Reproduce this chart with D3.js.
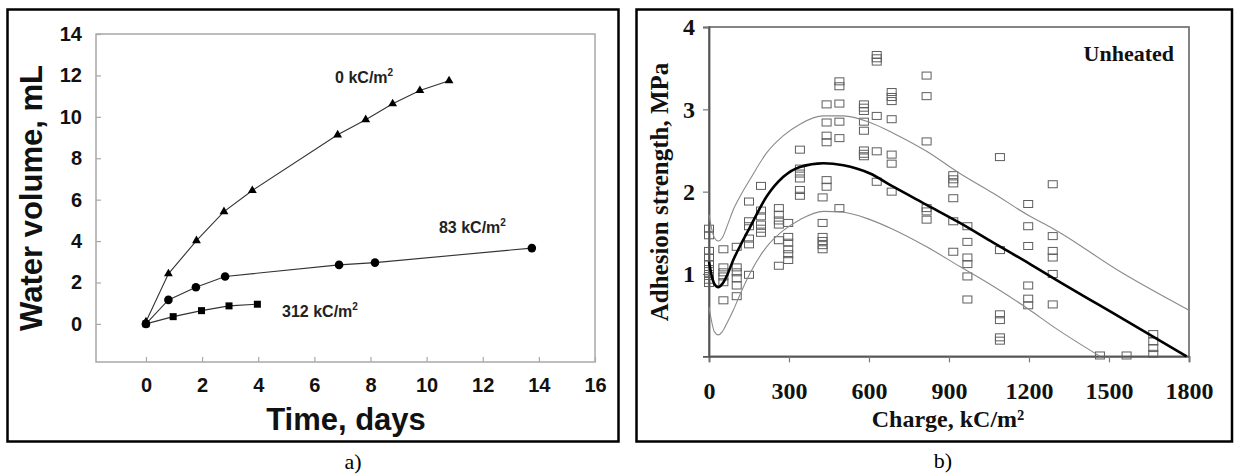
<!DOCTYPE html>
<html><head><meta charset="utf-8">
<script src="https://cdn.jsdelivr.net/npm/d3@7"></script>
<style>body{margin:0;background:#fff}svg{display:block}</style>
</head><body>
<svg id="c" width="1234" height="474"></svg>
<script>
// ---------- Panel a) data ----------
const timeTicks = [0,2,4,6,8,10,12,14,16];
const volTicks = [0,2,4,6,8,10,12,14];
const time0 = [0,0.8,1.8,2.78,3.79,6.83,7.83,8.79,9.76,10.8];
const vol0  = [0.1,2.42,4.02,5.42,6.44,9.13,9.86,10.63,11.27,11.74];
const time83 = [0,0.8,1.78,2.82,6.88,8.16,13.75];
const vol83  = [0,1.16,1.77,2.29,2.85,2.96,3.66];
const time312 = [0,0.97,1.98,2.96,3.97];
const vol312  = [0,0.35,0.64,0.87,0.95];
const seriesLabels = ["0 kC/m", "83 kC/m", "312 kC/m"];

// ---------- Panel b) data ----------
const chargeTicks = [0,300,600,900,1200,1500,1800];
const strengthTicks = [1,2,3,4];
const chargeLevels = [0,54,104,150,195,262,297,341,426,441,489,581,629,685,816,916,969,1091,1197,1289,1466,1566,1666];
const strengthAt = [
  [1.55,1.47,1.28,1.2,1.12,1.06,1.0,0.93,0.89],
  [1.3,1.08,1.02,0.97,0.9,0.68],
  [1.33,1.08,1.02,0.95,0.86,0.73],
  [1.88,1.64,1.58,1.43,1.36,0.99],
  [2.07,1.77,1.7,1.6,1.55,1.5],
  [1.8,1.72,1.65,1.6,1.41,1.1],
  [1.62,1.45,1.38,1.3,1.24,1.17],
  [2.51,2.28,2.22,2.16,2.02,1.95],
  [1.93,1.62,1.45,1.4,1.35,1.3],
  [3.06,2.84,2.68,2.6,2.14,2.06],
  [3.34,3.28,3.07,2.85,2.65,1.8],
  [3.06,3.02,2.98,2.85,2.74,2.5,2.46,2.43],
  [3.66,3.62,3.58,2.92,2.49,2.12],
  [3.21,3.15,3.1,2.88,2.45,2.34,2.0],
  [3.41,3.16,2.61,1.8,1.76,1.66],
  [2.2,2.15,2.1,1.92,1.64,1.27],
  [1.58,1.39,1.2,1.12,0.97,0.69],
  [2.42,1.29,0.51,0.44,0.23,0.19],
  [1.85,1.58,1.34,0.86,0.7,0.62],
  [2.09,1.46,1.28,1.2,1.0,0.63],
  [0.01],
  [0.01],
  [0.27,0.18,0.1,0.03]
];
const fitCharge = [0,10,20,35,50,70,91,123,154,216,279,341,429,504,604,691,816,941,1066,1204,1291,1541,1791];
const fitMean   = [1.15,0.98,0.88,0.84,0.88,1.0,1.17,1.38,1.57,1.94,2.18,2.30,2.345,2.32,2.22,2.06,1.84,1.62,1.38,1.12,0.95,0.475,0];
const upperCharge = [0,10,20,35,50,70,91,123,154,216,279,341,429,504,604,691,816,941,1066,1204,1291,1541,1800];
const fitUpper    = [1.72,1.55,1.44,1.40,1.44,1.6,1.78,1.98,2.15,2.47,2.68,2.82,2.92,2.92,2.84,2.71,2.49,2.22,1.98,1.70,1.55,1.03,0.56];
const lowerCharge = [0,10,20,35,50,70,91,123,154,216,279,341,429,504,604,691,816,941,1066,1204,1291,1466];
const fitLower    = [0.6,0.42,0.3,0.26,0.3,0.42,0.56,0.8,1.01,1.33,1.53,1.66,1.76,1.75,1.66,1.54,1.33,1.09,0.85,0.56,0.36,0];

const svg = d3.select("#c");
svg.append("rect").attr("width",1234).attr("height",474).attr("fill","#fff");

// ================= Panel a =================
const SANS = "'Liberation Sans', Arial, sans-serif";
const SERIF = "'Liberation Serif', 'Times New Roman', serif";
const ga = svg.append("g");
ga.append("rect").attr("x",7.5).attr("y",9.5).attr("width",611).attr("height",432)
  .attr("fill","none").attr("stroke","#000").attr("stroke-width",2.5);

const xA = d3.scaleLinear().domain([-1.78,16]).range([96,595]);
const yA = d3.scaleLinear().domain([-1.84,14]).range([362,34]);

ga.append("rect").attr("x",96).attr("y",34).attr("width",499).attr("height",328)
  .attr("fill","none").attr("stroke","#a8a8a8").attr("stroke-width",1.5);

const axA = ga.append("g").attr("transform","translate(0,362)")
  .call(d3.axisBottom(xA).tickValues(timeTicks).tickSize(-5).tickPadding(16).tickFormat(d3.format("d")));
const ayA = ga.append("g").attr("transform","translate(96,0)")
  .call(d3.axisLeft(yA).tickValues(volTicks).tickSize(-5).tickPadding(14).tickFormat(d3.format("d")));
[axA, ayA].forEach(a => {
  a.select(".domain").remove();
  a.selectAll(".tick line").attr("stroke","#a8a8a8").attr("stroke-width",1.2);
  a.selectAll(".tick text").attr("fill","#111").attr("font-family",SANS).attr("font-weight","bold").attr("font-size",20);
});

const lineA = d3.line().x(d=>xA(d[0])).y(d=>yA(d[1]));
const s0 = time0.map((t,i)=>[t,vol0[i]]);
const s83 = time83.map((t,i)=>[t,vol83[i]]);
const s312 = time312.map((t,i)=>[t,vol312[i]]);
[s0,s83,s312].forEach(s=>{
  ga.append("path").attr("d",lineA(s)).attr("fill","none").attr("stroke","#333").attr("stroke-width",1.1);
});
ga.selectAll(".tri").data(s0).join("path")
  .attr("transform",d=>`translate(${xA(d[0])},${yA(d[1])})`)
  .attr("d",d3.symbol(d3.symbolTriangle,34)).attr("fill","#000");
ga.selectAll(".cir").data(s83).join("circle")
  .attr("cx",d=>xA(d[0])).attr("cy",d=>yA(d[1])).attr("r",4.3).attr("fill","#000");
ga.selectAll(".sq").data(s312).join("rect")
  .attr("x",d=>xA(d[0])-3.5).attr("y",d=>yA(d[1])-3.5).attr("width",7).attr("height",7).attr("fill","#000");

function seriesLabel(txt, x, y){
  const t = ga.append("text").attr("x",xA(x)).attr("y",yA(y))
    .attr("font-family",SANS).attr("font-weight","bold").attr("font-size",16).attr("fill","#222");
  t.append("tspan").text(txt);
  t.append("tspan").attr("dy",-7).attr("font-size",10).text("2");
}
seriesLabel(seriesLabels[0], 6.74, 11.64);
seriesLabel(seriesLabels[1], 10.44, 4.4);
seriesLabel(seriesLabels[2], 4.85, 0.34);

ga.append("text").attr("x",346).attr("y",430).attr("text-anchor","middle")
  .attr("font-family",SANS).attr("font-weight","bold").attr("font-size",31).attr("fill","#111")
  .text("Time, days");
ga.append("text").attr("transform","translate(42,198) rotate(-90)").attr("text-anchor","middle")
  .attr("font-family",SANS).attr("font-weight","bold").attr("font-size",31).attr("fill","#111")
  .text("Water volume, mL");
svg.append("text").attr("x",353).attr("y",469).attr("text-anchor","middle")
  .attr("font-family",SERIF).attr("font-size",22).attr("fill","#000").text("a)");

// ================= Panel b =================
const gb = svg.append("g");
gb.append("rect").attr("x",636.5).attr("y",9.5).attr("width",595.5).attr("height",432)
  .attr("fill","none").attr("stroke","#000").attr("stroke-width",2.5);

const xB = d3.scaleLinear().domain([0,1800]).range([709,1189]);
const yB = d3.scaleLinear().domain([0,4]).range([356.3,27]);

gb.append("rect").attr("x",709).attr("y",27).attr("width",480).attr("height",329.3)
  .attr("fill","none").attr("stroke","#666").attr("stroke-width",1.6);

const axB = gb.append("g").attr("transform","translate(0,356.3)")
  .call(d3.axisBottom(xB).tickValues(chargeTicks).tickSize(6).tickPadding(20).tickFormat(d3.format("d")));
const ayB = gb.append("g").attr("transform","translate(709,0)")
  .call(d3.axisLeft(yB).tickValues(strengthTicks).tickSize(6).tickPadding(8).tickFormat(d3.format("d")));
[axB, ayB].forEach(a => {
  a.select(".domain").attr("stroke","#555").attr("stroke-width",1.8);
  a.selectAll(".tick line").attr("stroke","#777").attr("stroke-width",1.2);
  a.selectAll(".tick text").attr("fill","#111").attr("font-family",SERIF).attr("font-weight","bold").attr("font-size",24);
});

// scatter
const pts = [];
chargeLevels.forEach((c,i)=>strengthAt[i].forEach(v=>pts.push([c,v])));
gb.selectAll(".pt").data(pts).join("rect")
  .attr("x",d=>xB(d[0])-4.5).attr("y",d=>yB(d[1])-3.5).attr("width",9).attr("height",7)
  .attr("fill","none").attr("stroke","#5e5e5e").attr("stroke-width",1);

const lineB = d3.line().x(d=>xB(d[0])).y(d=>yB(d[1])).curve(d3.curveMonotoneX);
gb.append("path").attr("d",lineB(upperCharge.map((c,i)=>[c,fitUpper[i]])))
  .attr("fill","none").attr("stroke","#8a8a8a").attr("stroke-width",1.1);
gb.append("path").attr("d",lineB(lowerCharge.map((c,i)=>[c,fitLower[i]])))
  .attr("fill","none").attr("stroke","#8a8a8a").attr("stroke-width",1.1);
gb.append("path").attr("d",lineB(fitCharge.map((c,i)=>[c,fitMean[i]])))
  .attr("fill","none").attr("stroke","#000").attr("stroke-width",2.6);

gb.append("text").attr("x",1174).attr("y",61).attr("text-anchor","end")
  .attr("font-family",SERIF).attr("font-weight","bold").attr("font-size",22).attr("fill","#111").text("Unheated");
gb.append("text").attr("x",948).attr("y",427).attr("text-anchor","middle")
  .attr("font-family",SERIF).attr("font-weight","bold").attr("font-size",24).attr("fill","#111").text("Charge, kC/m²");
gb.append("text").attr("transform","translate(668,192) rotate(-90)").attr("text-anchor","middle")
  .attr("font-family",SERIF).attr("font-weight","bold").attr("font-size",25).attr("fill","#111").text("Adhesion strength, MPa");
svg.append("text").attr("x",943).attr("y",468).attr("text-anchor","middle")
  .attr("font-family",SERIF).attr("font-size",22).attr("fill","#000").text("b)");
</script>
</body></html>
